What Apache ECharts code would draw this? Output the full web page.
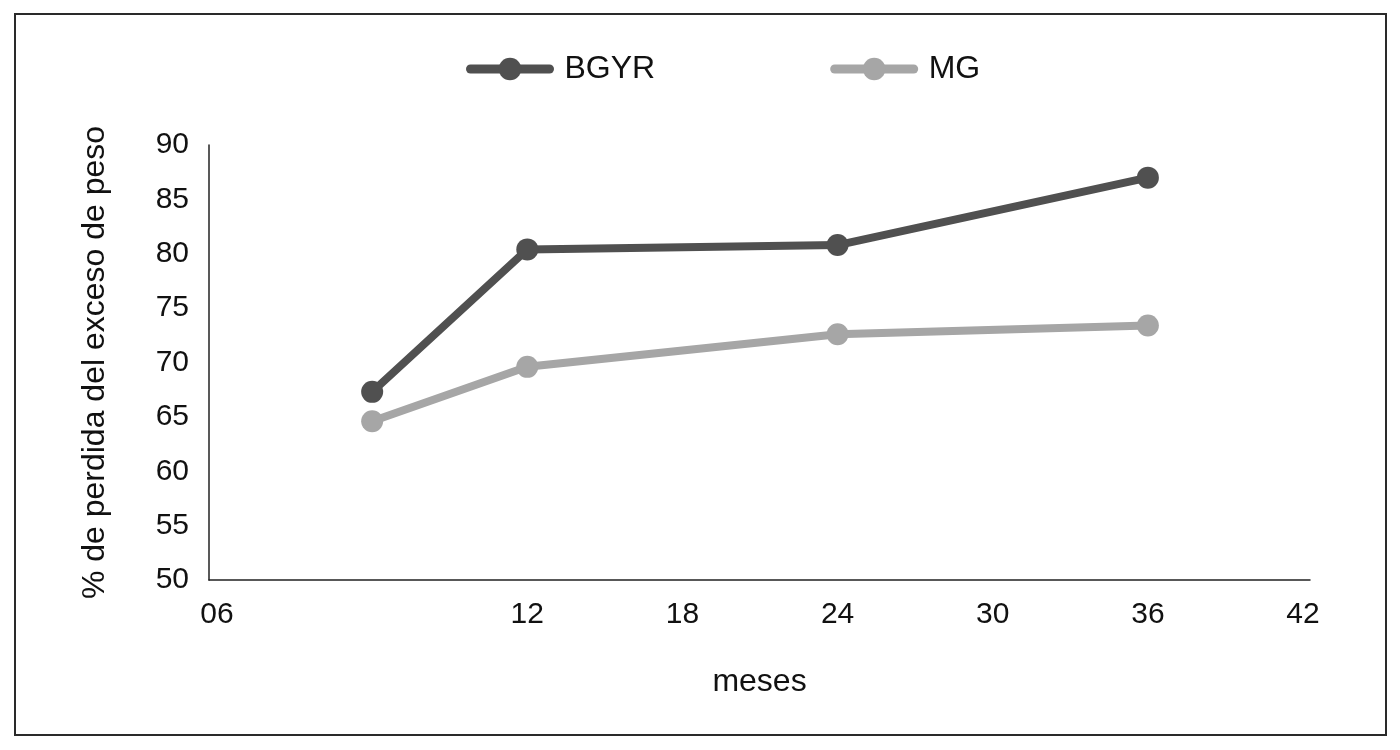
<!DOCTYPE html>
<html>
<head>
<meta charset="utf-8">
<script src="https://cdn.jsdelivr.net/npm/echarts@6/dist/echarts.min.js"></script>
<style>html,body{margin:0;padding:0;background:#fff}#c{width:1400px;height:750px}</style>
</head>
<body>
<div id="c"></div>
<script>
const months = [6, 12, 24, 36];
const bgyr = [67.3, 80.4, 80.8, 87.0];
const mg = [64.6, 69.6, 72.6, 73.4];
const xTickValues = [0, 12, 18, 24, 30, 36, 42];
const xTickLabels = ['06', '12', '18', '24', '30', '36', '42'];
const seriesNames = ['BGYR', 'MG'];

const font = 'Liberation Sans, Arial, sans-serif';
const chart = echarts.init(document.getElementById('c'));
chart.setOption({
  backgroundColor: '#fff',
  animation: false,
  graphic: [{
    type: 'rect', shape: {x: 15, y: 14, width: 1371, height: 721},
    style: {fill: 'none', stroke: '#2a2a2a', lineWidth: 2}, silent: true
  }],
  legend: {
    top: 48, left: 461, itemWidth: 79, itemHeight: 28, itemGap: 175,
    lineStyle: {width: 9, cap: 'round'},
    textStyle: {fontFamily: font, fontSize: 32, color: '#111', padding: [0, 0, 0, 10]},
    data: seriesNames
  },
  grid: {left: 209, right: 90, top: 145, bottom: 170},
  xAxis: {
    type: 'value', min: -0.31, max: 42.27,
    name: 'meses', nameLocation: 'middle', nameGap: 86,
    nameTextStyle: {fontFamily: font, fontSize: 32, color: '#111'},
    axisLine: {show: true, onZero: false, lineStyle: {color: '#222', width: 1.5}},
    axisTick: {show: false},
    splitLine: {show: false},
    axisLabel: {fontFamily: font, fontSize: 30, color: '#111', margin: 20,
      customValues: xTickValues,
      formatter: v => { const i = xTickValues.indexOf(Math.round(v)); return i >= 0 ? xTickLabels[i] : ''; }}
  },
  yAxis: {
    type: 'value', min: 50, max: 90, interval: 5,
    name: '% de perdida del exceso de peso', nameLocation: 'middle', nameGap: 98,
    nameTextStyle: {fontFamily: font, fontSize: 32, color: '#111'},
    axisLine: {show: true, onZero: false, lineStyle: {color: '#222', width: 1.5}},
    axisTick: {show: false},
    splitLine: {show: false},
    axisLabel: {fontFamily: font, fontSize: 30, color: '#111', margin: 20}
  },
  series: [
    {name: seriesNames[0], type: 'line', data: months.map((m, i) => [m, bgyr[i]]),
      symbol: 'circle', symbolSize: 22, lineStyle: {width: 8, color: '#505050'},
      itemStyle: {color: '#505050'}},
    {name: seriesNames[1], type: 'line', data: months.map((m, i) => [m, mg[i]]),
      symbol: 'circle', symbolSize: 22, lineStyle: {width: 8, color: '#a6a6a6'},
      itemStyle: {color: '#a6a6a6'}}
  ]
});
</script>
</body>
</html>
